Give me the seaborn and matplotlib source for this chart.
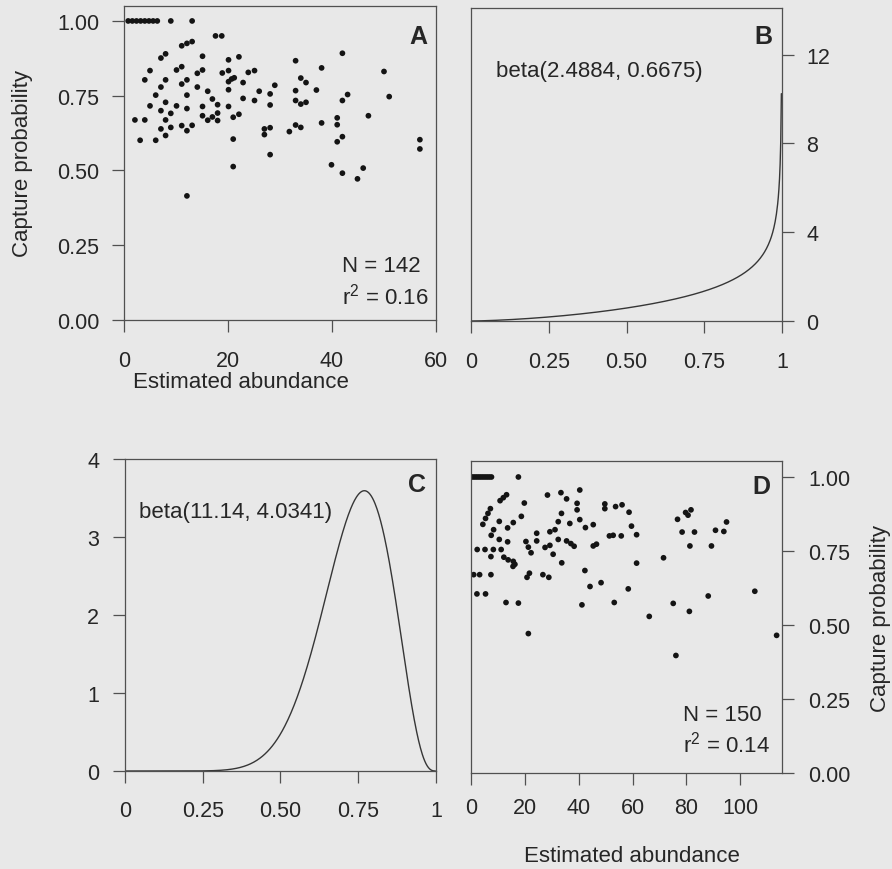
import math
import numpy as np
import matplotlib
matplotlib.use("Agg")
import matplotlib.pyplot as plt
import seaborn as sns

# ---- Panel A: capture probability vs. estimated abundance (N = 142) ----
abund_a = [0.8, 1.6, 2.4, 3.2, 4.0, 4.8, 5.6, 6.4, 9.0, 13.1,
           17.6, 18.8, 11.1, 12.1, 13.1,
           15.1, 8.0, 7.1, 20.1, 22.1,
           5.0, 10.1, 11.1, 15.1, 14.1, 18.9, 20.1, 23.9, 25.1,
           4.0, 8.0, 12.1, 11.1, 20.1, 20.7, 21.2,
           7.1, 14.1, 20.1, 22.9, 29.0,
           6.1, 12.1, 16.1, 17.0, 26.0, 28.1, 22.9, 25.1, 28.1,
           5.0, 8.0, 7.1, 10.1, 9.0, 12.1, 15.1, 18.0, 20.1,
           15.1, 16.1, 17.0, 18.0, 18.0, 21.0, 22.1,
           2.1, 4.0, 8.0,
           7.1, 9.0, 8.0, 11.1, 12.1, 13.1,
           3.1, 6.1,
           27.0, 28.1, 27.0,
           31.8, 21.0, 28.1, 21.0, 12.1,
           33.0, 42.0, 38.0, 34.0, 35.0, 33.0, 37.0, 50.0, 51.0,
           33.0, 34.0, 35.0, 43.0, 42.0, 47.0, 38.0, 41.0, 41.0,
           33.0, 34.0, 42.0, 41.0, 56.9, 56.9, 39.9, 42.0, 46.0, 44.9]
prob_a = [1.0, 1.0, 1.0, 1.0, 1.0, 1.0, 1.0, 1.0, 1.0, 1.0,
          0.950, 0.950, 0.917, 0.925, 0.931,
          0.882, 0.890, 0.876, 0.870, 0.880,
          0.834, 0.836, 0.847, 0.836, 0.825, 0.826, 0.834, 0.828, 0.834,
          0.803, 0.803, 0.803, 0.789, 0.797, 0.806, 0.810,
          0.779, 0.779, 0.770, 0.794, 0.785,
          0.752, 0.752, 0.765, 0.739, 0.765, 0.756, 0.741, 0.734, 0.719,
          0.716, 0.728, 0.700, 0.716, 0.691, 0.707, 0.714, 0.720, 0.714,
          0.683, 0.668, 0.679, 0.692, 0.667, 0.678, 0.688,
          0.669, 0.669, 0.669,
          0.639, 0.644, 0.617, 0.650, 0.633, 0.651,
          0.601, 0.601,
          0.639, 0.643, 0.620,
          0.630, 0.605, 0.553, 0.513, 0.415,
          0.867, 0.892, 0.843, 0.809, 0.794, 0.767, 0.769, 0.831, 0.747,
          0.734, 0.722, 0.728, 0.754, 0.734, 0.683, 0.659, 0.676, 0.653,
          0.652, 0.644, 0.613, 0.596, 0.603, 0.572, 0.519, 0.491, 0.508, 0.472]

# ---- Panel D: capture probability vs. estimated abundance (N = 150) ----
abund_d = [0.4, 1.2, 2.0, 2.8, 3.6, 4.4, 5.2, 6.0, 6.8, 7.6, 17.6,
           10.8, 12.0, 13.2, 19.8, 28.4, 33.4, 35.5, 40.4, 39.4, 39.4,
           49.7, 49.7, 53.7, 56.1, 58.7,
           7.2, 6.3, 5.4, 4.4,
           10.5, 13.6, 15.7, 18.7,
           8.4, 7.5, 10.5, 13.6,
           24.4, 24.4, 20.4, 21.3, 22.3,
           29.3, 31.2, 33.6, 32.4, 36.7, 40.4, 42.5, 45.4,
           27.5, 29.3, 30.5,
           32.4, 35.5, 37.1, 38.3,
           45.4, 46.6,
           51.4, 52.8, 55.8,
           2.3, 5.2, 8.3, 11.2,
           7.4,
           12.2, 13.8, 15.7, 16.3, 15.6,
           33.7,
           1.0, 3.2, 7.4,
           20.8, 21.7, 26.7, 28.9,
           42.3, 44.2, 48.3,
           2.2, 5.4,
           13.0, 17.6, 41.2, 53.2, 21.3, 58.4,
           59.6, 61.5, 76.7, 79.7, 80.6, 81.7, 78.4, 83.0, 81.3, 89.3,
           90.8, 93.9, 94.9, 71.5, 61.5, 105.4, 88.1, 75.1, 81.1, 66.2,
           113.5, 76.1]
prob_d = [1.0, 1.0, 1.0, 1.0, 1.0, 1.0, 1.0, 1.0, 1.0, 1.0, 1.0,
          0.920, 0.930, 0.940, 0.912, 0.939, 0.947, 0.926, 0.956, 0.911, 0.889,
          0.909, 0.893, 0.900, 0.906, 0.881,
          0.893, 0.877, 0.860, 0.840,
          0.850, 0.828, 0.846, 0.867,
          0.822, 0.803, 0.789, 0.781,
          0.810, 0.784, 0.782, 0.763, 0.744,
          0.815, 0.822, 0.877, 0.849, 0.843, 0.856, 0.829, 0.839,
          0.762, 0.769, 0.739,
          0.789, 0.784, 0.775, 0.766,
          0.767, 0.773,
          0.801, 0.803, 0.801,
          0.755, 0.755, 0.755, 0.755,
          0.731,
          0.729, 0.720, 0.715, 0.705, 0.698,
          0.710,
          0.670, 0.670, 0.670,
          0.661, 0.675, 0.670, 0.661,
          0.684, 0.630, 0.643,
          0.605, 0.605,
          0.576, 0.574, 0.568, 0.576, 0.471, 0.622,
          0.834, 0.805, 0.857, 0.880, 0.871, 0.889, 0.814, 0.814, 0.767, 0.767,
          0.820, 0.816, 0.848, 0.727, 0.709, 0.614, 0.598, 0.573, 0.546, 0.529,
          0.465, 0.397]

# ---- Fitted beta distributions (panels B and C) ----
alpha_b, beta_b = 2.4884, 0.6675
alpha_c, beta_c = 11.14, 4.0341

# ---- Tick values and labels ----
abund_ticks_a = [0, 20, 40, 60]
abund_ticks_d = [0, 20, 40, 60, 80, 100]
prob_ticks = [0.0, 0.25, 0.5, 0.75, 1.0]
prob_tick_labels = ["0.00", "0.25", "0.50", "0.75", "1.00"]
unit_ticks = [0.0, 0.25, 0.5, 0.75, 1.0]
unit_tick_labels = ["0", "0.25", "0.50", "0.75", "1"]
dens_ticks_b = [0, 4, 8, 12]
dens_ticks_c = [0, 1, 2, 3, 4]


def beta_pdf(x, a, b):
    log_norm = math.lgamma(a + b) - math.lgamma(a) - math.lgamma(b)
    return np.exp(log_norm + (a - 1) * np.log(x) + (b - 1) * np.log1p(-x))


BG = "#e8e8e8"
INK = "#262626"
FRAME = "#505050"

sns.set_theme(style="ticks")
plt.rcParams.update({
    "font.family": ["Liberation Sans", "DejaVu Sans"],
    "font.size": 16,
    "mathtext.default": "regular",
    "figure.facecolor": BG,
    "axes.facecolor": BG,
    "axes.edgecolor": FRAME,
    "axes.linewidth": 0.9,
    "xtick.color": FRAME,
    "ytick.color": FRAME,
    "xtick.labelcolor": INK,
    "ytick.labelcolor": INK,
    "xtick.major.size": 8.7,
    "ytick.major.size": 8.7,
    "xtick.major.width": 0.9,
    "ytick.major.width": 0.9,
    "xtick.labelsize": 15.5,
    "ytick.labelsize": 15.5,
    "axes.labelsize": 16,
    "axes.labelcolor": INK,
    "text.color": INK,
})

fig = plt.figure(figsize=(8.92, 8.70), dpi=100)
W, H = 892.0, 870.0


def place(left, top, right, bottom):
    return fig.add_axes([left / W, 1 - bottom / H, (right - left) / W, (bottom - top) / H])


ax_a = place(124, 7, 436, 321)
ax_b = place(471, 9, 782, 322)
ax_c = place(125, 460, 436, 772)
ax_d = place(471, 462, 782, 774)

dot_kw = dict(s=17, color="#141414", edgecolor="none", linewidth=0, legend=False)
line_kw = dict(color="#363636", linewidth=1.0, legend=False, errorbar=None)

# Panel A
sns.scatterplot(x=abund_a, y=prob_a, ax=ax_a, **dot_kw)
ax_a.set_xlim(0, 60)
ax_a.set_ylim(0, 1.05)
ax_a.set_xticks(abund_ticks_a)
ax_a.set_yticks(prob_ticks)
ax_a.set_yticklabels(prob_tick_labels)
ax_a.tick_params(axis="x", pad=13)
ax_a.tick_params(axis="y", pad=9)
ax_a.set_xlabel("Estimated abundance")
ax_a.xaxis.set_label_coords(0.375, -0.196)
ax_a.xaxis.label.set_va("center")
ax_a.set_ylabel("Capture probability")
ax_a.yaxis.set_label_coords(-0.325, 0.5)
ax_a.yaxis.label.set_va("center")
ax_a.text(0.699, 0.172, "N = 142", transform=ax_a.transAxes, va="center", ha="left", fontsize=16)
ax_a.text(0.699, 0.077, "r$^2$ = 0.16", transform=ax_a.transAxes, va="center", ha="left", fontsize=16)
ax_a.text(0.971, 0.905, "A", transform=ax_a.transAxes, va="center", ha="right", fontsize=18, fontweight="bold")

# Panel B
grid_b = np.linspace(0, 1, 501)[1:-1]
sns.lineplot(x=grid_b, y=beta_pdf(grid_b, alpha_b, beta_b), ax=ax_b, **line_kw)
ax_b.set_xlim(0, 1)
ax_b.set_ylim(0, 14.1)
ax_b.set_xticks(unit_ticks)
ax_b.set_xticklabels(unit_tick_labels)
ax_b.set_yticks(dens_ticks_b)
ax_b.yaxis.tick_right()
ax_b.tick_params(axis="x", pad=13)
ax_b.tick_params(axis="y", pad=9)
ax_b.set_xlabel("")
ax_b.set_ylabel("")
ax_b.text(0.08, 0.80, f"beta({alpha_b}, {beta_b})", transform=ax_b.transAxes,
          va="center", ha="left", fontsize=16)
ax_b.text(0.968, 0.912, "B", transform=ax_b.transAxes, va="center", ha="right", fontsize=18, fontweight="bold")

# Panel C
grid_c = np.linspace(0, 1, 501)[1:-1]
sns.lineplot(x=grid_c, y=beta_pdf(grid_c, alpha_c, beta_c), ax=ax_c, **line_kw)
ax_c.set_xlim(0, 1)
ax_c.set_ylim(0, 4)
ax_c.set_xticks(unit_ticks)
ax_c.set_xticklabels(unit_tick_labels)
ax_c.set_yticks(dens_ticks_c)
ax_c.tick_params(axis="x", pad=12)
ax_c.tick_params(axis="y", pad=10)
ax_c.set_xlabel("")
ax_c.set_ylabel("")
ax_c.text(0.045, 0.833, f"beta({alpha_c}, {beta_c})", transform=ax_c.transAxes,
          va="center", ha="left", fontsize=16)
ax_c.text(0.968, 0.92, "C", transform=ax_c.transAxes, va="center", ha="right", fontsize=18, fontweight="bold")

# Panel D
sns.scatterplot(x=abund_d, y=prob_d, ax=ax_d, **dot_kw)
ax_d.set_xlim(0, 115.5)
ax_d.set_ylim(0, 1.054)
ax_d.set_xticks(abund_ticks_d)
ax_d.set_yticks(prob_ticks)
ax_d.set_yticklabels(prob_tick_labels)
ax_d.yaxis.tick_right()
ax_d.yaxis.set_label_position("right")
ax_d.tick_params(axis="x", pad=8.5)
ax_d.tick_params(axis="y", pad=10)
ax_d.set_xlabel("Estimated abundance")
ax_d.xaxis.set_label_coords(0.516, -0.266)
ax_d.xaxis.label.set_va("center")
ax_d.set_ylabel("Capture probability")
ax_d.yaxis.set_label_coords(1.316, 0.5)
ax_d.yaxis.label.set_va("center")
ax_d.text(0.681, 0.189, "N = 150", transform=ax_d.transAxes, va="center", ha="left", fontsize=16)
ax_d.text(0.681, 0.093, "r$^2$ = 0.14", transform=ax_d.transAxes, va="center", ha="left", fontsize=16)
ax_d.text(0.964, 0.921, "D", transform=ax_d.transAxes, va="center", ha="right", fontsize=18, fontweight="bold")

fig.savefig("out.png", dpi=100, facecolor=BG)
